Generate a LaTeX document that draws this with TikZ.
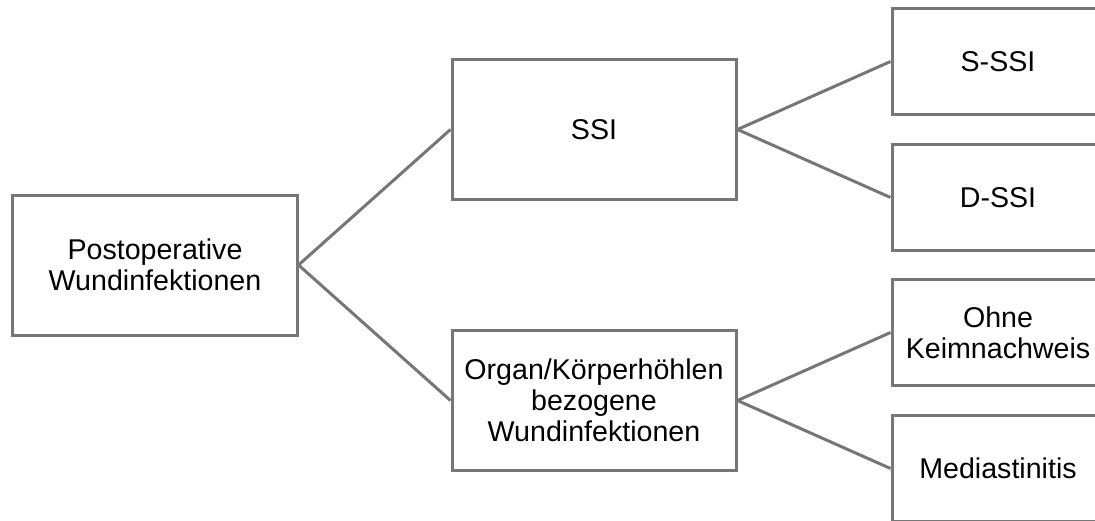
\documentclass[tikz,border=0pt]{standalone}
\usepackage{fontspec}
\setmainfont{Liberation Sans}
\usepackage{tikz}
\definecolor{linegray}{RGB}{118,118,118}

\begin{document}
\begin{tikzpicture}[grow'=right,
	level 1/.style={sibling distance=135.5pt,level distance=219.5pt},
	level 2/.style={sibling distance=68pt,level distance=202pt},
	box/.style={draw=linegray,line width=1.5pt,align=center,minimum width=142pt,minimum height=70pt,font=\fontsize{14.3}{15.5}\selectfont},
	leafbox/.style={box,minimum width=106pt,minimum height=53pt},
	edge from parent/.style={draw=linegray,line width=1.5pt},
	edge from parent path={(\tikzparentnode.east) -- (\tikzchildnode.west)}]
	\useasboundingbox (-77.5pt,-127.5pt) rectangle (470pt,132.5pt);
	\clip (-77.5pt,-127.5pt) rectangle (470pt,132.5pt);
	\node[box] (wund) {Postoperative\\Wundinfektionen}
		child { node[box] (ssi) {SSI}
			child { node[leafbox] (sssi) {S-SSI}}
			child { node[leafbox] (dssi) {D-SSI}}	}
		child { node[box] (organ) {Organ/Körperhöhlen\\bezogene\\Wundinfektionen}
			child { node[leafbox] (ohne) {Ohne\\Keimnachweis}}
			child { node[leafbox] (media) {Mediastinitis}}	}
	;
\end{tikzpicture}
\end{document}
